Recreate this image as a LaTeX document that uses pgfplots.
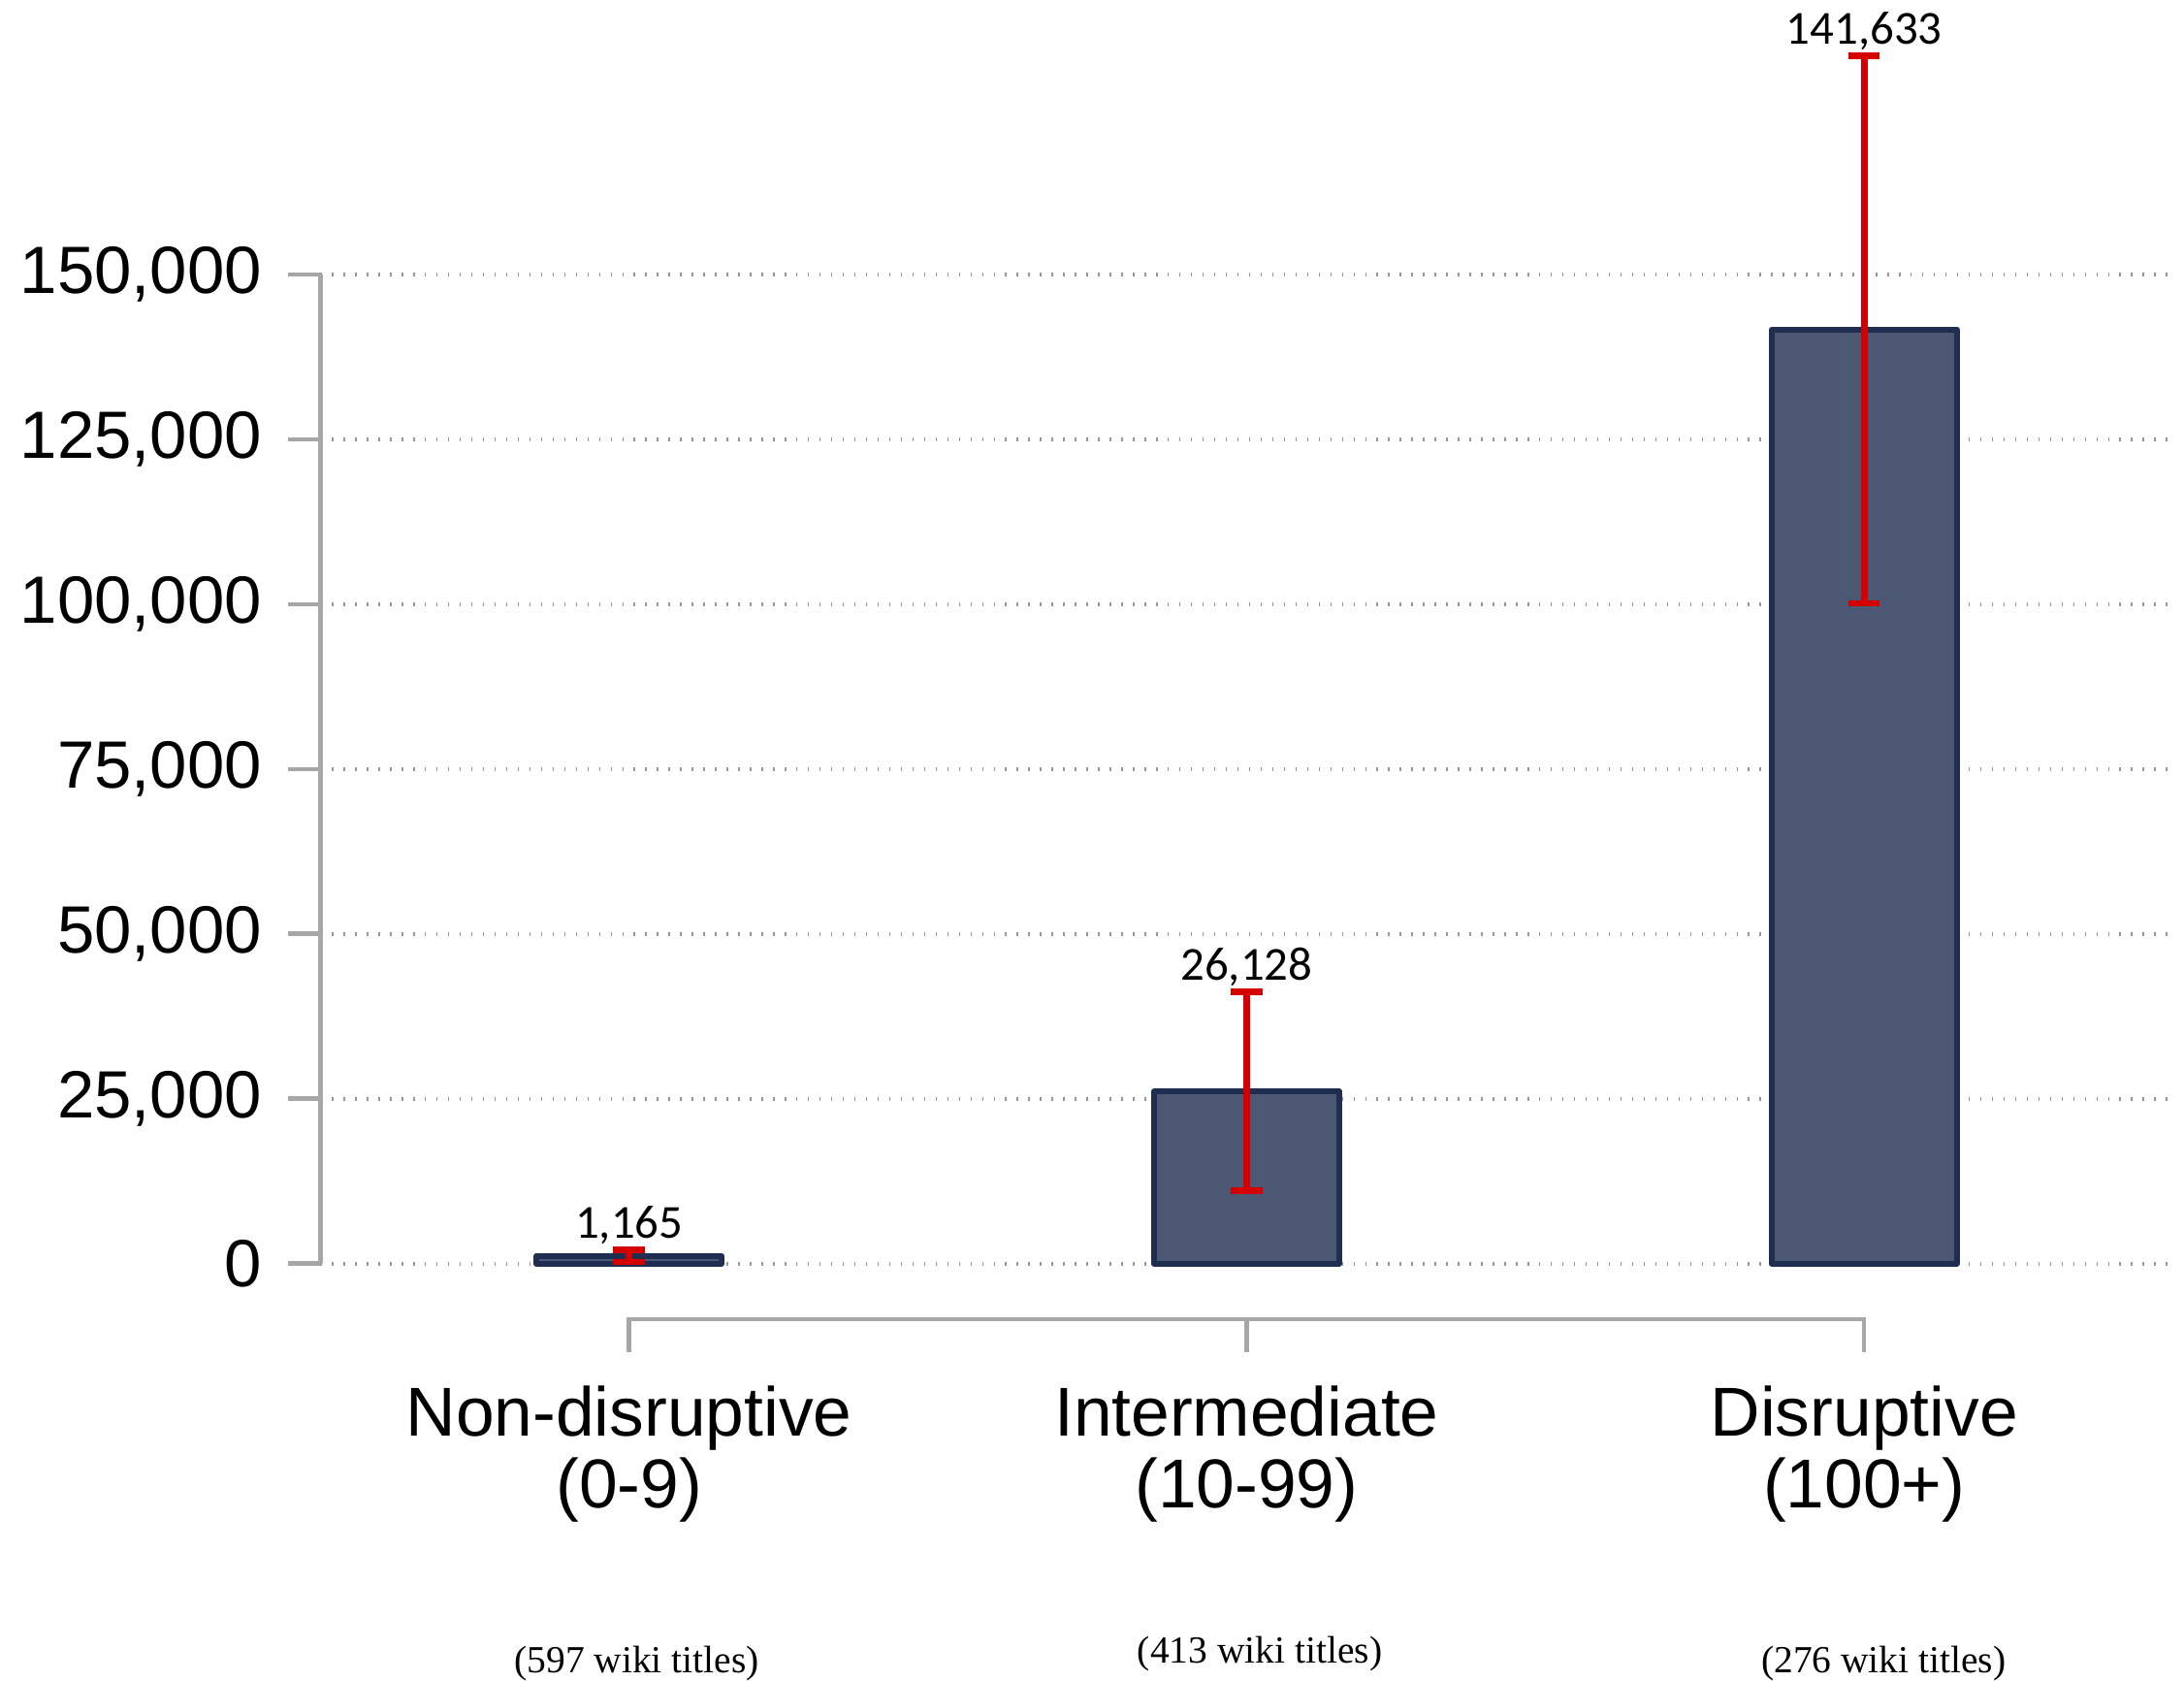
\documentclass[border=0pt]{standalone}
\usepackage{fontspec}
\setmainfont{Liberation Sans}
\newfontfamily\carlito{Carlito}
\newfontfamily\timesf{Liberation Serif}
\usepackage{pgfplots}
\pgfplotsset{compat=1.18}
\usepackage{pgfplotstable}
\definecolor{barfill}{RGB}{75,87,115}
\definecolor{barline}{RGB}{31,45,80}
\definecolor{errred}{RGB}{212,0,0}
\definecolor{axgray}{RGB}{166,166,166}
\definecolor{gridgray}{RGB}{150,150,150}

\pgfplotstableread{
x y err
0 1165 900
1 26128 15050
2 141633 41500
}\datatable

\begin{document}
\begin{tikzpicture}
\begin{axis}[
  scale only axis, width=399pt, height=213pt,
  at={(0,0)}, anchor=south west,
  xmin=-0.5, xmax=2.5, ymin=0, ymax=150000,
  axis y line*=left, axis x line*=bottom,
  x axis line style={draw=none},
  y axis line style={axgray, line width=0.95pt},
  xtick={0,1,2},
  xticklabels={{Non-disruptive\\(0-9)},{Intermediate\\(10-99)},{Disruptive\\(100+)}},
  xtick style={draw=none},
  xticklabel style={anchor=north, align=center, inner sep=0pt, yshift=-19.2pt, font=\fontsize{14.9}{15.4}\selectfont},
  ytick={0,25000,...,150000},
  scaled y ticks=false,
  ytick style={axgray, line width=0.95pt},
  tick align=outside,
  major tick length=7pt,
  yticklabel style={font=\fontsize{14.4}{17}\selectfont, inner xsep=5.4pt, inner ysep=0pt},
  /pgf/number format/.cd, fixed, 1000 sep={,}, assume math mode=true, /pgfplots/.cd,
  ymajorgrids,
  grid style={gridgray, line width=0.9pt, dash pattern=on 0.3pt off 2.2pt},
  clip=false,
]
\addplot[ybar, bar width=0.3, fill=barfill, draw=barline, line width=1.25pt, line join=round,
  nodes near coords,
  visualization depends on={\thisrow{err}\as\err},
  nodes near coords style={anchor=base, inner sep=0pt, shift={(axis direction cs:0,\err)}, yshift=2.5pt, font=\carlito\fontsize{10.2}{11}\selectfont, text=black},
  error bars/.cd, y dir=both, y explicit,
  error bar style={errred, line width=1.4pt},
  error mark options={errred, line width=1.4pt, mark size=3.4pt, rotate=90}
] table[x=x, y=y, y error=err] {\datatable};

\draw[axgray, line width=0.95pt] ([yshift=-19.1pt]axis cs:0,0) -- ([yshift=-12pt]axis cs:0,0) -- ([yshift=-12pt]axis cs:2,0) -- ([yshift=-19.1pt]axis cs:2,0);
\draw[axgray, line width=0.95pt] ([yshift=-12pt]axis cs:1,0) -- ([yshift=-19.1pt]axis cs:1,0);

\node[anchor=base, inner sep=0pt, font=\timesf\fontsize{8.25}{10}\selectfont] at ([xshift=1.65pt,yshift=-88.2pt]axis cs:0,0) {(597 wiki titles)};
\node[anchor=base, inner sep=0pt, font=\timesf\fontsize{8.25}{10}\selectfont] at ([xshift=2.85pt,yshift=-85.95pt]axis cs:1,0) {(413 wiki titles)};
\node[anchor=base, inner sep=0pt, font=\timesf\fontsize{8.25}{10}\selectfont] at ([xshift=4.2pt,yshift=-88.2pt]axis cs:2,0) {(276 wiki titles)};
\end{axis}
\pgfresetboundingbox
\path[use as bounding box] (-69pt,-89.7pt) rectangle (401.4pt,272.1pt);
\end{tikzpicture}
\end{document}
